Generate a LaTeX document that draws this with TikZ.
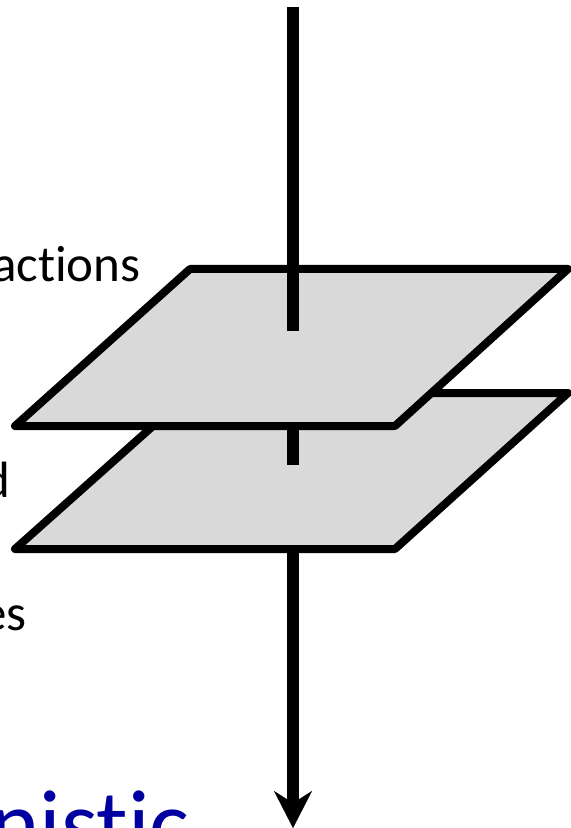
\documentclass[tikz,border=0pt]{standalone}
\usepackage{fontspec}
\setmainfont{Carlito}[Ligatures=NoCommon]
\usetikzlibrary{arrows.meta}
\definecolor{titleblue}{RGB}{0,0,160}
\tikzset{
  plane/.style ={draw,fill=black!15,line width=4pt,line join=round},
  shaft/.style ={line width=6.3pt},
  ar/.style    ={shaft,-{Stealth[length=18.5pt,width=19pt,inset=6pt,line width=0.1pt]}},
  lbl/.style   ={font=\fontsize{25.5}{31}\selectfont,inner sep=0pt,anchor=base east},
  ttl/.style   ={font=\fontsize{47}{56}\selectfont,text=titleblue,inner sep=0pt,anchor=base east},
}
\begin{document}
\begin{tikzpicture}[x=0.5pt,y=-0.5pt]
  \useasboundingbox (0,0) rectangle (571,828);
  % the arrow pieces
  \coordinate (top)  at (293,7);
  \coordinate (in1)  at (293,331);
  \coordinate (out1) at (293,426);
  \coordinate (in2)  at (293,465);
  \coordinate (out2) at (293,549);
  \coordinate (tip)  at (293,828);
  \draw[ar] (out2) -- (tip);
  % lower plane
  \draw[plane] (190,393) -- (568,393) -- (395,549) -- (15,549) -- cycle;
  \draw[shaft] (out1) -- (in2);
  % upper plane
  \draw[plane] (190,269) -- (568,269) -- (395,426) -- (15,426) -- cycle;
  \draw[shaft] (top) -- (in1);
  % labels
  \node[lbl] (acts) at (141,282) {actions};
  \node[lbl] (dd)   at (11,497)  {d};
  \node[lbl] (es)   at (27,630)  {es};
  \node[ttl] (det)  at (190,855) {nistic};
\end{tikzpicture}
\end{document}
